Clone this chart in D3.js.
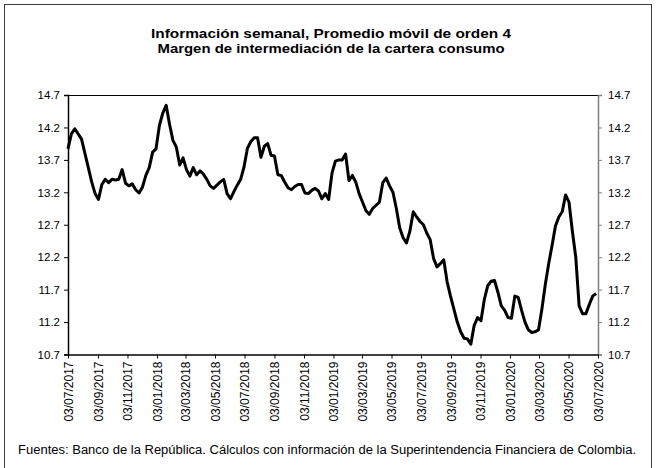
<!DOCTYPE html>
<html>
<head>
<meta charset="utf-8">
<script src="https://cdn.jsdelivr.net/npm/d3@7"></script>
<style>
  html, body { margin: 0; padding: 0; background: #fff; }
  svg { display: block; font-family: "Liberation Sans", Arial, sans-serif; }
</style>
</head>
<body>
<svg id="chart" width="656" height="468"></svg>
<script>
// ---- data ----
const titleLines = ["Información semanal, Promedio móvil de orden 4",
                    "Margen de intermediación de la cartera consumo"];
const footerText = "Fuentes: Banco de la República. Cálculos con información de la Superintendencia Financiera de Colombia.";
const startDate = "03/07/2017";   // first weekly observation
const stepDays = 7;
const values = [
  13.87, 14.10, 14.18, 14.10, 14.02, 13.80, 13.58, 13.36, 13.18, 13.09,
  13.32, 13.40, 13.35, 13.40, 13.39, 13.40, 13.55, 13.34, 13.30, 13.33,
  13.24, 13.19, 13.28, 13.46, 13.58, 13.82, 13.87, 14.23, 14.42, 14.54,
  14.25, 14.00, 13.90, 13.62, 13.73, 13.55, 13.45, 13.58, 13.47, 13.53,
  13.48, 13.40, 13.30, 13.26, 13.31, 13.36, 13.40, 13.18, 13.10, 13.21,
  13.31, 13.40, 13.59, 13.88, 13.98, 14.04, 14.04, 13.74, 13.91, 13.95,
  13.77, 13.76, 13.47, 13.46, 13.36, 13.27, 13.24, 13.29, 13.32, 13.32,
  13.19, 13.18, 13.23, 13.26, 13.22, 13.10, 13.18, 13.09, 13.50, 13.68,
  13.70, 13.70, 13.79, 13.38, 13.46, 13.36, 13.18, 13.05, 12.92, 12.86,
  12.95, 13.00, 13.05, 13.35, 13.42, 13.30, 13.20, 12.95, 12.65, 12.50,
  12.42, 12.60, 12.90, 12.82, 12.75, 12.70, 12.57, 12.47, 12.18, 12.05,
  12.10, 12.16, 11.82, 11.60, 11.40, 11.20, 11.05, 10.95, 10.94, 10.86,
  11.15, 11.27, 11.22, 11.55, 11.76, 11.83, 11.84, 11.66, 11.45, 11.38,
  11.27, 11.26, 11.60, 11.58, 11.38, 11.20, 11.08, 11.04, 11.05, 11.08,
  11.40, 11.78, 12.10, 12.38, 12.68, 12.82, 12.90, 13.16, 13.05, 12.60,
  12.20, 11.45, 11.33, 11.33, 11.47, 11.60, 11.64
];
const xTickLabels = ["03/07/2017","03/09/2017","03/11/2017","03/01/2018","03/03/2018",
  "03/05/2018","03/07/2018","03/09/2018","03/11/2018","03/01/2019","03/03/2019",
  "03/05/2019","03/07/2019","03/09/2019","03/11/2019","03/01/2020","03/03/2020",
  "03/05/2020","03/07/2020"];
const yTicks = [10.7, 11.2, 11.7, 12.2, 12.7, 13.2, 13.7, 14.2, 14.7];

// ---- chart ----
const parse = d3.timeParse("%d/%m/%Y");
const t0 = parse(startDate);
const series = values.map((v, i) => ({ date: d3.timeDay.offset(t0, i * stepDays), value: v }));
const xTickDates = xTickLabels.map(parse);

const svg = d3.select("#chart");
const m = { left: 68, right: 598, top: 95, bottom: 354.5 };

// outer frame
svg.append("rect").attr("x", 4.5).attr("y", 4.5).attr("width", 647).attr("height", 480)
  .attr("fill", "none").attr("stroke", "#404040").attr("stroke-width", 1);

// title
const titleWidths = [360, 347];
svg.append("g").selectAll("text").data(titleLines).join("text")
  .attr("x", 331).attr("y", (d, i) => 37.5 + i * 15)
  .attr("text-anchor", "middle").attr("font-weight", "bold").attr("font-size", 13)
  .attr("textLength", (d, i) => titleWidths[i]).attr("lengthAdjust", "spacingAndGlyphs")
  .attr("fill", "#000").text(d => d);

const x = d3.scaleTime().domain([xTickDates[0], xTickDates[xTickDates.length - 1]])
  .range([m.left, m.right]);
const y = d3.scaleLinear().domain([10.7, 14.7]).range([m.bottom, m.top]);

// top border of plot area
svg.append("line").attr("x1", m.left).attr("x2", m.right).attr("y1", m.top + 0.5).attr("y2", m.top + 0.5)
  .attr("stroke", "#000").attr("stroke-width", 1);

// left axis
const gL = svg.append("g").attr("transform", `translate(${m.left},0)`)
  .call(d3.axisLeft(y).tickValues(yTicks).tickFormat(d3.format(".1f")).tickSize(4).tickPadding(4));
gL.select(".domain").attr("stroke", "#000").attr("stroke-width", 1.5);
gL.selectAll(".tick line").attr("stroke", "#000");
gL.selectAll("text").attr("font-size", 11.5).attr("fill", "#000").attr("font-family", "Liberation Sans, Arial");

// right axis
const gR = svg.append("g").attr("transform", `translate(${m.right},0)`)
  .call(d3.axisRight(y).tickValues(yTicks).tickFormat(d3.format(".1f")).tickSize(4).tickPadding(6));
gR.select(".domain").attr("stroke", "#808080").attr("stroke-width", 1.5);
gR.selectAll(".tick line").attr("stroke", "#808080");
gR.selectAll("text").attr("font-size", 11.5).attr("fill", "#000").attr("font-family", "Liberation Sans, Arial");

// bottom axis
const gB = svg.append("g").attr("transform", `translate(0,${m.bottom})`)
  .call(d3.axisBottom(x).tickValues(xTickDates).tickFormat((d, i) => xTickLabels[i]).tickSize(4).tickSizeOuter(0));
gB.select(".domain").attr("stroke", "#000").attr("stroke-width", 1.5);
gB.selectAll(".tick line").attr("stroke", "#000");
gB.selectAll("text").attr("font-size", 12).attr("fill", "#000").attr("font-family", "Liberation Sans, Arial")
  .attr("text-anchor", "end").attr("dy", "0.35em")
  .attr("transform", "translate(0,7) rotate(-90)").attr("x", 0).attr("y", 0);

// line
svg.append("path").datum(series)
  .attr("fill", "none").attr("stroke", "#000").attr("stroke-width", 3)
  .attr("stroke-linejoin", "round")
  .attr("d", d3.line().x(d => x(d.date)).y(d => y(d.value)));

// footer
svg.append("text").attr("x", 18).attr("y", 454).attr("font-size", 12).attr("fill", "#000")
  .attr("textLength", 618).attr("lengthAdjust", "spacingAndGlyphs")
  .text(footerText);
</script>
</body>
</html>
